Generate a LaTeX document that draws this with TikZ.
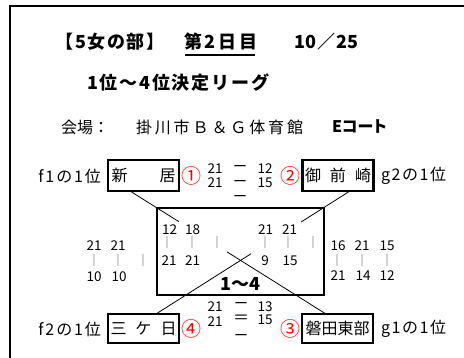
\documentclass[tikz,border=0pt]{standalone}
\usepackage{fontspec}
\setmainfont{Noto Sans CJK JP}
\usetikzlibrary{calc}
\begin{document}
\begin{tikzpicture}[x=1pt,y=-1pt,
  every node/.style={inner sep=0pt, outer sep=0pt},
  namebox/.style={draw, line width=2.2pt, minimum width=71pt, font=\fontsize{16}{16}\selectfont},
  tag/.style={font=\fontsize{16}{16}\selectfont},
  circ/.style={text=red, font=\fontsize{20}{20}\selectfont},
  num/.style={font=\fontsize{13.5}{13.5}\selectfont, text height=10pt, text depth=0pt},
  dsh/.style={font=\fontsize{14}{14}\selectfont, text height=6.5pt, text depth=-4pt},
  bar/.style={text=gray, font=\fontsize{11}{11}\selectfont, text height=8pt, text depth=2pt},
  link/.style={line width=0.8pt},
  ttl/.style={anchor=west, font=\bfseries\fontsize{18}{18}\selectfont}
]
\useasboundingbox (0,0) rectangle (464,358);
% outer frame
\draw[line width=2.5pt] (10,358) -- (10,6) -- (464,6);

% titles
\node[ttl] (t1) at (56,42) {\addfontfeature{LetterSpace=8}【5女の部】};
\node[ttl] (t2) at (184,42) {\addfontfeature{LetterSpace=15}第2日目};
\draw[line width=1.3pt] ($(t2.base west)+(1,6)$) -- ($(t2.base east)+(-2,6)$);
\node[ttl] (t3) at (294,42) {\addfontfeature{LetterSpace=4}10／25};
\node[ttl] (t4) at (87,83) {\addfontfeature{LetterSpace=10}1位～4位決定リーグ};
\node[anchor=west, font=\fontsize{16}{16}\selectfont] (t5) at (61,127) {会場：};
\node[anchor=west, font=\fontsize{16}{16}\selectfont] (t6) at (136,127) {\addfontfeature{LetterSpace=18}掛川市Ｂ＆Ｇ体育館};
\node[anchor=west, font=\bfseries\fontsize{16}{16}\selectfont] (t7) at (332,127) {\addfontfeature{RawFeature=+palt}Eコート};

% team boxes
\node[namebox, minimum height=31pt] (niiz) at (143.5,175.5) {新\hspace{2em}居};
\node[namebox, minimum height=31pt] (omae) at (338,175.5) {御\hspace{9pt}前\hspace{9pt}崎};
\node[namebox, minimum height=29pt] (mika) at (143.5,328.5) {三\hspace{9pt}ケ\hspace{9pt}日};
\node[namebox, minimum height=29pt] (iwat) at (337.5,328.5) {磐田東部};

% central box
\node[draw, line width=2.2pt, minimum width=167pt, minimum height=87pt] (cbox) at (240.5,251.5) {};
\node[font=\bfseries\fontsize{18}{18}\selectfont] (rng) at (240,284) {1～4};

% labels
\node[tag, anchor=east] (f1) at (101,176) {\addfontfeature{LetterSpace=12}f1の1位};
\node[tag, anchor=west] (g2) at (381,176) {\addfontfeature{LetterSpace=10}g2の1位};
\node[tag, anchor=east] (f2) at (101,329) {\addfontfeature{LetterSpace=12}f2の1位};
\node[tag, anchor=west] (g1) at (381,329) {\addfontfeature{LetterSpace=10}g1の1位};
\node[circ] (c1) at (191.5,176) {①};
\node[circ] (c2) at (290.5,176) {②};
\node[circ] (c4) at (191.5,329) {④};
\node[circ] (c3) at (290,329) {③};

% connectors
\coordinate (p1) at ($(niiz.south)+(-13.5,0)$);
\coordinate (p2) at ($(iwat.north)+(-11.5,0)$);
\coordinate (q1) at ($(omae.south)+(12,0)$);
\coordinate (q2) at ($(mika.north)+(12.5,0)$);
\draw[link] (p1) -- ($(p1)!0.25!(p2)$);
\draw[link] ($(p1)!0.495!(p2)$) -- (p2);
\draw[link] (q1) -- ($(q1)!0.2526!(q2)$);
\draw[link] ($(q1)!0.51!(q2)$) -- (q2);

% top match scores
\node[num] (a1) at (215,169) {21};
\node[num] (a2) at (215,183) {21};
\node[dsh] (ad1) at (240,168) {ー};
\node[dsh] (ad2) at (240,183) {ー};
\node[dsh] (ad3) at (240,198) {ー};
\node[num] (a3) at (265,169) {12};
\node[num] (a4) at (265,183) {15};

% bottom match scores
\node[num] (b1) at (215,307) {21};
\node[num] (b2) at (215,322) {21};
\node[dsh] (bd1) at (241,305.5) {ー};
\node[font=\fontsize{16}{16}\selectfont, text height=8.5pt, text depth=-3.5pt] (bd2) at (241,319) {＝};
\node[dsh] (bd4) at (241,337) {ー};
\node[num] (b3) at (265,307) {13};
\node[num] (b4) at (265,320) {15};

% inner left
\node[num] (il1) at (169.5,230) {12};
\node[num] (il2) at (192.5,230) {18};
\node[num] (il3) at (169,261) {21};
\node[num] (il4) at (192.5,261) {21};
\node[bar] (ilb1) at (167,243) {|};
\node[bar] (ilb2) at (192,243) {|};
\node[bar] (ilb3) at (217,243) {|};

% inner right
\node[num] (ir1) at (265.5,230) {21};
\node[num] (ir2) at (289.5,230) {21};
\node[num] (ir3) at (265,261) {9};
\node[num] (ir4) at (290,261) {15};
\node[bar] (irb1) at (265,243) {|};
\node[bar] (irb2) at (288,243) {|};
\node[bar] (irb3) at (313,243) {|};

% outer left
\node[num] (ol1) at (94,246) {21};
\node[num] (ol2) at (118,246) {21};
\node[num] (ol3) at (94,277) {10};
\node[num] (ol4) at (119,277) {10};
\node[bar] (olb1) at (94,261) {|};
\node[bar] (olb2) at (118,261) {|};
\node[bar] (olb3) at (143,261) {|};

% outer right
\node[num] (or1) at (338,246) {16};
\node[num] (or2) at (362,246) {21};
\node[num] (or3) at (387,246) {15};
\node[num] (or4) at (338,276) {21};
\node[num] (or5) at (363,276) {14};
\node[num] (or6) at (387,276) {12};
\node[bar] (orb1) at (337,261) {|};
\node[bar] (orb2) at (362,261) {|};
\node[bar] (orb3) at (387,261) {|};
\end{tikzpicture}
\end{document}
